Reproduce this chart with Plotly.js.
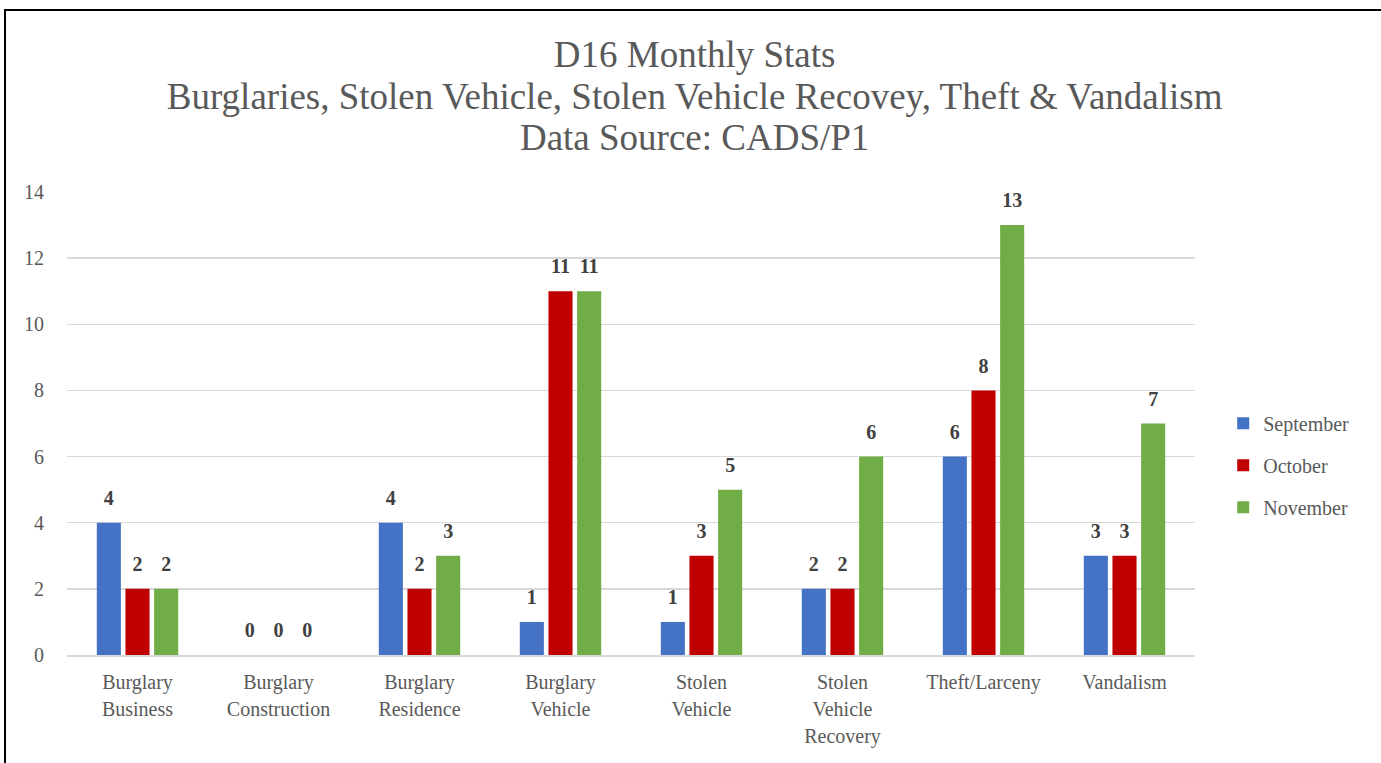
<!DOCTYPE html>
<html>
<head>
<meta charset="utf-8">
<script src="https://cdn.plot.ly/plotly-3.0.1.min.js"></script>
<style>
html,body{margin:0;padding:0;overflow:hidden;background:#fff;}
#chart{width:1381px;height:763px;}
#frame{position:absolute;left:4px;top:9px;width:1500px;height:900px;border:2px solid #000;pointer-events:none;}
</style>
</head>
<body>
<div id="chart"></div>
<div id="frame"></div>
<script>
const categories = ["Burglary<br>Business","Burglary<br>Construction","Burglary<br>Residence","Burglary<br>Vehicle","Stolen<br>Vehicle","Stolen<br>Vehicle<br>Recovery","Theft/Larceny","Vandalism"];
const september = [4,0,4,1,1,2,6,3];
const october   = [2,0,2,11,3,2,8,3];
const november  = [2,0,3,11,5,6,13,7];
const seriesNames = ["September","October","November"];
const colors = ["#4472C4","#C00000","#70AD47"];
const yTicks = [0,2,4,6,8,10,12,14];
const titleLines = ["D16 Monthly Stats","Burglaries, Stolen Vehicle, Stolen Vehicle Recovey, Theft &amp; Vandalism","Data Source: CADS/P1"];

const serif = "Liberation Serif, Times New Roman, serif";
const all = [september, october, november];
const traces = [];
all.forEach((vals,i)=>{
  traces.push({
    type:'bar', name:seriesNames[i], x:categories, y:vals,
    marker:{color:colors[i]}, legendgroup:'g'+i, hoverinfo:'x+y+name'
  });
});
all.forEach((vals,i)=>{
  traces.push({
    type:'scatter', mode:'markers+text', x:categories, y:vals,
    text:vals.map(String), textposition:'top center',
    textfont:{family:serif,size:20,color:'#404040',weight:'bold'},
    marker:{size:19,opacity:0,color:colors[i]},
    showlegend:false, hoverinfo:'skip', cliponaxis:false
  });
});

const layout = {
  width:1381, height:763,
  margin:{l:67,r:186,t:192,b:108},
  paper_bgcolor:'#fff', plot_bgcolor:'#fff',
  barmode:'group', bargap:0.39, bargroupgap:0.16,
  scattermode:'group', scattergap:0.39,
  font:{family:serif,color:'#595959',size:20},
  title:{
    text:titleLines.map(s=>'<span style="font-size:37px">'+s+'</span>').join('<br>'),
    font:{family:serif,size:32,color:'#595959'},
    x:0.503, xref:'container', xanchor:'center',
    y:0.912, yref:'container', yanchor:'top'
  },
  xaxis:{
    type:'category', showgrid:false, showline:true, linecolor:'#d9d9d9', linewidth:1.5,
    tickvals:categories,
    ticktext:categories.map(c=>c.split('<br>').map(s=>'<span style="font-size:20px">'+s+'</span>').join('<br>')),
    ticks:'outside', ticklen:7, tickcolor:'rgba(0,0,0,0)',
    tickfont:{family:serif,size:21,color:'#595959'}, tickangle:0
  },
  yaxis:{
    range:[0,14], tickvals:yTicks, showgrid:true, gridcolor:'#d9d9d9', gridwidth:1.5,
    zeroline:false, showline:false,
    ticks:'outside', ticklen:18, tickcolor:'rgba(0,0,0,0)',
    tickfont:{family:serif,size:20,color:'#595959'}
  },
  legend:{
    x:1.025, xanchor:'left', y:0.41, yanchor:'middle',
    font:{family:serif,size:20,color:'#595959'},
    tracegroupgap:13, itemwidth:30
  },
  showlegend:true
};

Plotly.newPlot('chart', traces, layout, {displayModeBar:false, staticPlot:true});
</script>
</body>
</html>
